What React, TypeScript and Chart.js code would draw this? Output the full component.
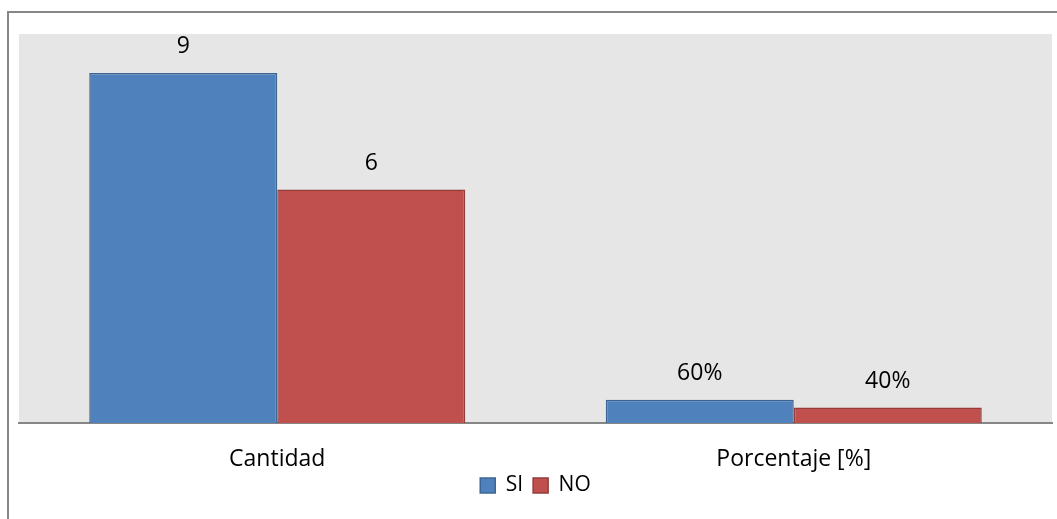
import { useEffect, useRef } from 'react';
import { Chart, registerables } from 'chart.js';

Chart.register(...registerables);

const categories = ['Cantidad', 'Porcentaje [%]'];
const seriesNames = ['SI', 'NO'];
const siValues = [9, 0.6];
const noValues = [6, 0.4];
const percentCategoryIndex = 1;

const FONT = "'Open Sans', 'Noto Sans', sans-serif";

const formatValue = (v: number, idx: number) =>
  idx === percentCategoryIndex ? `${Math.round(v * 100)}%` : `${v}`;

const framePlugin = {
  id: 'frame',
  beforeDraw(chart: any) {
    const { ctx, chartArea } = chart;
    ctx.save();
    ctx.fillStyle = '#e6e6e6';
    ctx.fillRect(chartArea.left, chartArea.top, chartArea.right - chartArea.left, chartArea.bottom - chartArea.top);
    ctx.strokeStyle = '#878787';
    ctx.lineWidth = 2;
    ctx.beginPath();
    ctx.moveTo(8, chart.height + 2);
    ctx.lineTo(8, 12);
    ctx.lineTo(chart.width + 2, 12);
    ctx.stroke();
    ctx.restore();
  },
};

const legendShiftPlugin = {
  id: 'legendShift',
  afterLayout(chart: any) {
    const l = chart.legend;
    if (l) {
      l.top -= 10;
      l.bottom -= 10;
    }
  },
};

const labelPlugin = {
  id: 'valueLabels',
  afterDatasetsDraw(chart: any) {
    const { ctx } = chart;
    ctx.save();
    ctx.font = `23px ${FONT}`;
    ctx.fillStyle = '#000';
    ctx.textAlign = 'center';
    ctx.textBaseline = 'middle';
    chart.data.datasets.forEach((ds: any, di: number) => {
      const meta = chart.getDatasetMeta(di);
      meta.data.forEach((el: any, i: number) => {
        ctx.fillText(formatValue(ds.data[i], i), el.x, el.y - 26);
      });
    });
    ctx.restore();
  },
};

export default function App() {
  const ref = useRef<HTMLCanvasElement>(null);
  useEffect(() => {
    const chart = new Chart(ref.current!, {
      type: 'bar',
      data: {
        labels: categories,
        datasets: [
          {
            label: seriesNames[0],
            data: siValues,
            backgroundColor: '#4f81bd',
            borderColor: '#3c6594',
            borderWidth: 1.5,
            categoryPercentage: 0.728,
            barPercentage: 1,
          },
          {
            label: seriesNames[1],
            data: noValues,
            backgroundColor: '#c0504d',
            borderColor: '#943c3a',
            borderWidth: 1.5,
            categoryPercentage: 0.728,
            barPercentage: 1,
          },
        ],
      },
      options: {
        animation: false,
        responsive: true,
        maintainAspectRatio: false,
        layout: { padding: { left: 19, right: 5, top: 34, bottom: 3 } },
        scales: {
          y: { display: false, min: 0, max: 10 },
          x: {
            grid: { display: false, drawTicks: false },
            border: { display: true, color: '#868686', width: 2 },
            ticks: { color: '#000', font: { family: FONT, size: 23 }, padding: 23 },
            afterFit: (scale: any) => {
              scale.height = 52;
            },
          },
        },
        plugins: {
          legend: {
            position: 'bottom',
            labels: {
              color: '#000',
              font: { family: FONT, size: 21 },
              boxWidth: 15,
              boxHeight: 15,
              padding: 10,
            },
          },
          tooltip: { enabled: false },
        },
      },
      plugins: [framePlugin, labelPlugin, legendShiftPlugin],
    });
    return () => chart.destroy();
  }, []);
  return (
    <div style={{ position: 'absolute', left: 0, top: 0, width: 1057, height: 519 }}>
      <canvas ref={ref} />
    </div>
  );
}
